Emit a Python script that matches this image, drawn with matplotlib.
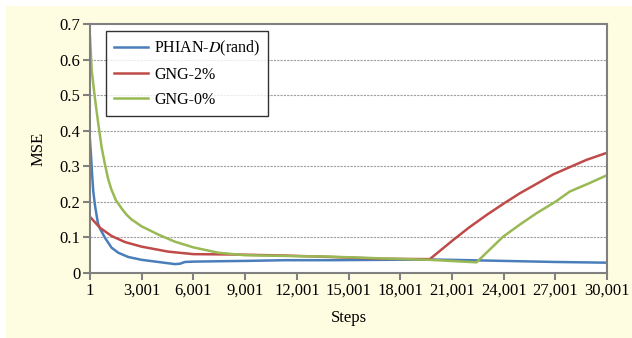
import matplotlib.pyplot as plt
from matplotlib.patches import Rectangle
from matplotlib.ticker import FuncFormatter

# values
steps_phian = [1, 60, 120, 190, 290, 460, 580, 870, 1255, 1640, 2220, 3001,
               3965, 4930, 5220, 5510, 6001, 7440, 9001, 11310, 14000, 17000,
               19700, 22000, 24000, 27000, 30001]
mse_phian = [0.372, 0.33, 0.28, 0.23, 0.19, 0.14, 0.125, 0.099, 0.071, 0.057,
             0.045, 0.037, 0.031, 0.025, 0.026, 0.031, 0.032, 0.033, 0.034,
             0.036, 0.036, 0.037, 0.038, 0.036, 0.034, 0.031, 0.029]

steps_gng2 = [1, 580, 1255, 2030, 3001, 4545, 6001, 8410, 11310, 14000, 17000,
              19720, 21080, 22000, 23010, 24000, 24940, 26000, 26870, 28000,
              28810, 30001]
mse_gng2 = [0.158, 0.127, 0.104, 0.087, 0.074, 0.060, 0.053, 0.052, 0.049,
            0.045, 0.040, 0.039, 0.093, 0.128, 0.163, 0.195, 0.224, 0.253,
            0.277, 0.301, 0.318, 0.338]

steps_gng0 = [1, 100, 290, 480, 680, 850, 1050, 1240, 1500, 1815, 2100, 2400,
              3001, 3965, 4930, 6001, 7440, 9001, 11310, 13920, 17000, 19720,
              22430, 23970, 25000, 25910, 27000, 27840, 29000, 30001]
mse_gng0 = [0.665, 0.57, 0.49, 0.42, 0.352, 0.31, 0.265, 0.235, 0.205, 0.183,
            0.165, 0.151, 0.131, 0.108, 0.088, 0.072, 0.057, 0.050, 0.048,
            0.046, 0.041, 0.037, 0.030, 0.102, 0.138, 0.168, 0.200, 0.229,
            0.253, 0.275]

x_ticks = list(range(1, 30002, 3000))
y_ticks = [0, 0.1, 0.2, 0.3, 0.4, 0.5, 0.6, 0.7]

plt.rcParams['font.family'] = 'serif'
plt.rcParams['font.serif'] = ['Liberation Serif']
plt.rcParams['mathtext.fontset'] = 'stix'
plt.rcParams['font.size'] = 11.5

fig = plt.figure(figsize=(6.32, 3.38), dpi=100)
fig.patch.set_facecolor('white')
# light yellow panel behind the chart
fig.patches.append(Rectangle((6 / 632, 0), 1, 1 - 6 / 338, transform=fig.transFigure,
                             facecolor='#fffde1', edgecolor='none', zorder=-1))

ax = fig.add_axes([90 / 632, 1 - 273 / 338, 517 / 632, 249 / 338])
ax.set_facecolor('white')

ax.plot(steps_phian, mse_phian, color='#4a7ebb', lw=1.8, label=r'PHIAN-$\mathit{D}$(rand)')
ax.plot(steps_gng2, mse_gng2, color='#be4b48', lw=1.8, label='GNG-2%')
ax.plot(steps_gng0, mse_gng0, color='#98b954', lw=1.8, label='GNG-0%')

ax.set_xlim(1, 30001)
ax.set_ylim(0, 0.7)
ax.set_xticks(x_ticks)
ax.xaxis.set_major_formatter(FuncFormatter(lambda v, p: f'{int(v):,}'))
ax.set_yticks(y_ticks)
ax.set_yticklabels(['0' if v == 0 else f'{v:.1f}' for v in y_ticks])

for y in y_ticks[1:-1]:
    ax.axhline(y, color='#a0a0a0', lw=0.8, ls=(0, (2, 1)), zorder=0)

for s in ax.spines.values():
    s.set_color('#808080')
    s.set_linewidth(1.5)

ax.tick_params(axis='both', direction='out', length=5, width=1.5,
               color='#808080', labelsize=12, pad=2)

ax.set_ylabel('MSE', fontsize=12)
ax.yaxis.set_label_coords(-0.085, 0.5)
ax.set_xlabel('Steps', fontsize=12)
ax.xaxis.set_label_coords(0.5, -0.15)

leg = ax.legend(loc='upper left', bbox_to_anchor=(0.031, 0.972), borderaxespad=0,
                frameon=True, fancybox=False, fontsize=11.5, handlelength=2.1,
                labelspacing=0.55, borderpad=0.5, handletextpad=0.4)
leg.get_frame().set_edgecolor('black')
leg.get_frame().set_linewidth(1.0)

fig.savefig('out.png', dpi=100)
